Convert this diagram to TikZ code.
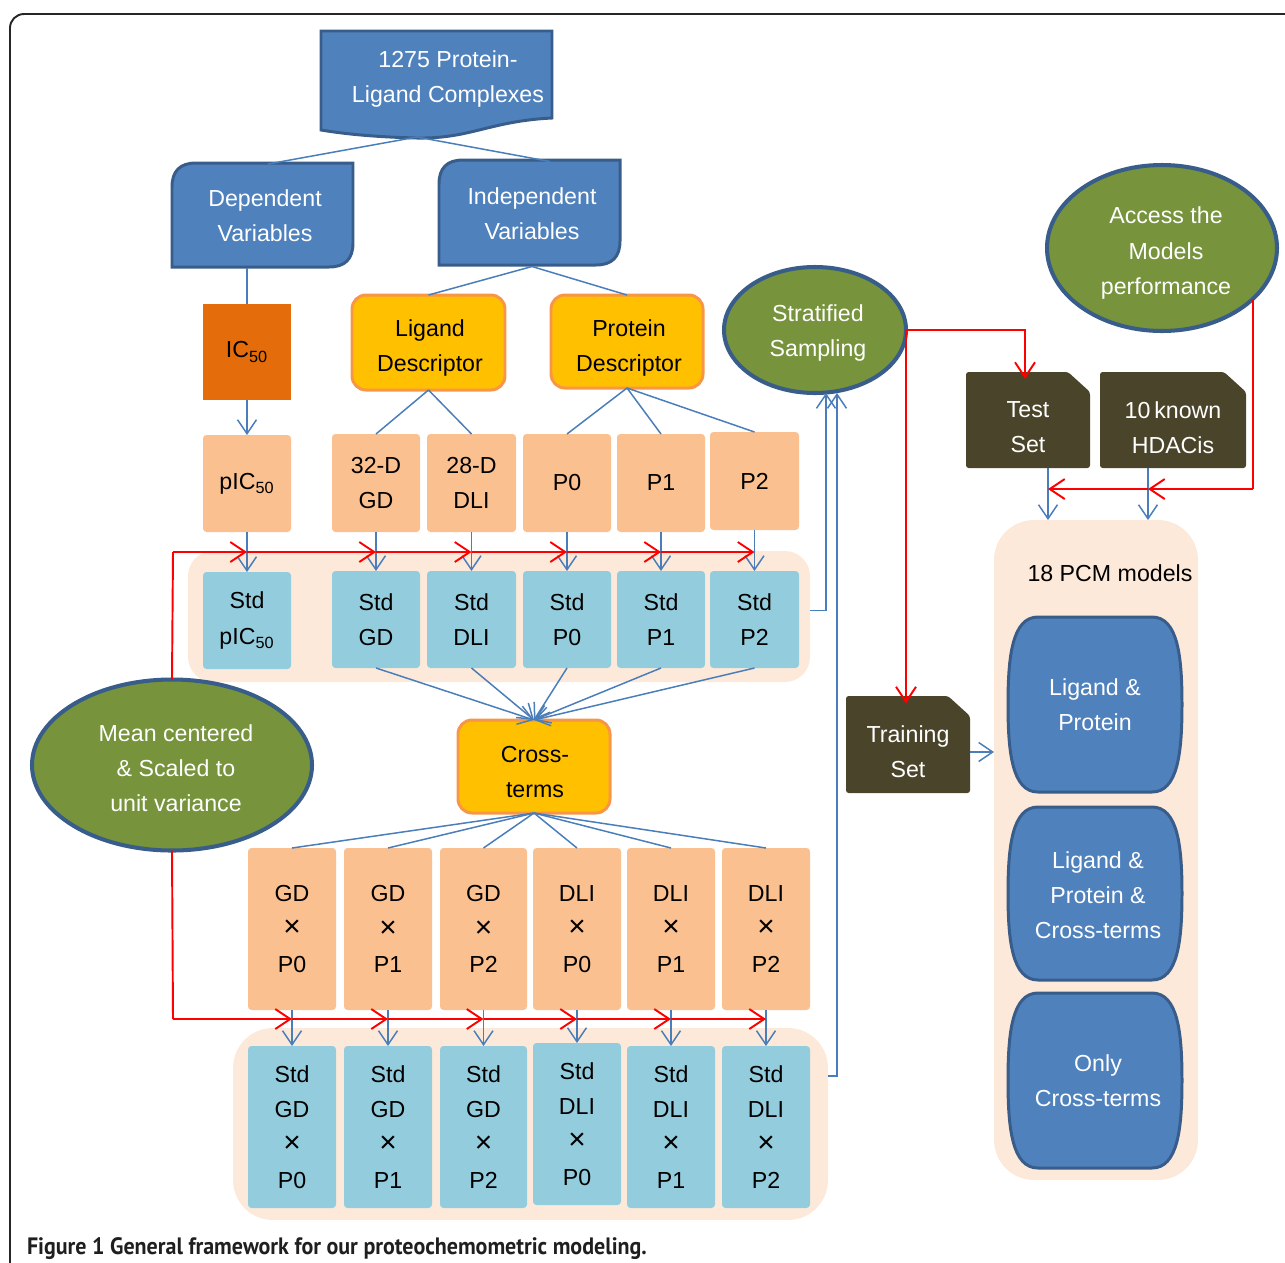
\documentclass[tikz,border=0pt]{standalone}
\usepackage{fontspec}
\usepackage{graphicx}
\setmainfont{Liberation Sans}
\newfontfamily\capfont{PT Sans}
\usetikzlibrary{arrows.meta,shapes.geometric,calc}
\definecolor{dblue}{HTML}{4F81BD}
\definecolor{dbord}{HTML}{385D8A}
\definecolor{lorange}{HTML}{FAC090}
\definecolor{lblue}{HTML}{93CDDD}
\definecolor{peach}{HTML}{FDE9D9}
\definecolor{gold}{HTML}{FFC000}
\definecolor{goldb}{HTML}{F79646}
\definecolor{icorange}{HTML}{E46C0A}
\definecolor{olive}{HTML}{77933C}
\definecolor{darkbox}{HTML}{4A452A}
\definecolor{lineblue}{HTML}{4A7EBB}
\pgfdeclarelayer{bands}
\pgfdeclarelayer{shapes}
\pgfsetlayers{bands,shapes,main}
\newcommand\tms{{\fontsize{17}{20}\selectfont ×}}
% x1 y1 x2 y2
\newcommand\mydiagbox[4]{\filldraw[fill=dblue,draw=dbord,line width=1.7pt] (#1,#4) -- (#1,#2+24) .. controls (#1,#2+8) and (#1+8,#2) .. (#1+24,#2) -- (#3,#2) -- (#3,#4-24) .. controls (#3,#4-8) and (#3-8,#4) .. (#3-24,#4) -- cycle;}
\newcommand\mybarrel[4]{\filldraw[fill=dblue,draw=dbord,line width=1.7pt] (#1+30,#2) -- (#3-30,#2) .. controls (#3-4,#2) and (#3,#2+40) .. (#3,{(#2+#4)/2}) .. controls (#3,#4-40) and (#3-4,#4) .. (#3-30,#4) -- (#1+30,#4) .. controls (#1+4,#4) and (#1,#4-40) .. (#1,{(#2+#4)/2}) .. controls (#1,#2+40) and (#1+4,#2) .. (#1+30,#2) -- cycle;}
\newcommand\mysnip[4]{\fill[darkbox,rounded corners=1.5pt] (#1,#2) -- (#3-22,#2) -- (#3,#2+20) -- (#3,#4) -- (#1,#4) -- cycle;}
\begin{document}
\begin{tikzpicture}[x=0.02cm,y=-0.02cm,
 every node/.style={font=\fontsize{13.2}{20}\selectfont, align=center, inner sep=0pt, outer sep=0pt},
 sz/.style 2 args={minimum width=#1*0.02cm, minimum height=#2*0.02cm},
 obox/.style={fill=lorange, rounded corners=2pt},
 sbox/.style={fill=lblue, rounded corners=2pt},
 ylw/.style={fill=gold, draw=goldb, line width=1.7pt, rounded corners=8pt},
 ell/.style={ellipse, fill=olive, draw=dbord, line width=2.3pt, text=white},
 link/.style={draw=lineblue, line width=0.85pt},
 barr/.style={link, -{Straight Barb[length=0.28cm,width=0.38cm]}},
 rline/.style={draw=red, line width=1.1pt},
 rarr/.style={rline, -{Straight Barb[length=0.3cm,width=0.4cm]}},
]
\useasboundingbox (0,0) rectangle (1285,1262);
\clip (0,0) rectangle (1285,1262);
\draw[line width=1.1pt, draw=black!85, rounded corners=0.28cm] (10,1300) -- (10,14) -- (1300,14);

% ---------- bands ----------
\begin{pgfonlayer}{bands}
\node[fill=peach, rounded corners=0.5cm, sz={622}{131}] (band1) at (499,616.5) {};
\node[fill=peach, rounded corners=0.8cm, sz={595}{192}] (band2) at (530.5,1124) {};
\node[fill=peach, rounded corners=0.8cm, sz={204}{660}] (pcm) at (1096,850) {};
\end{pgfonlayer}

% ---------- special shapes ----------
\begin{pgfonlayer}{shapes}
\filldraw[fill=dblue, draw=dbord, line width=1.7pt] (321,31) -- (552,31) -- (552,118) .. controls (490,121) and (470,139) .. (417,138) .. controls (375,137) and (345,134) .. (321,130) -- cycle;
\mydiagbox{172}{163}{353}{267}
\mydiagbox{439}{160}{620}{265}
\mybarrel{1008}{617}{1182}{792}
\mybarrel{1008}{807}{1182}{980}
\mybarrel{1008}{993}{1182}{1168}
\mysnip{966}{372}{1090}{468}
\mysnip{1100}{372}{1246}{468}
\mysnip{846}{696}{970}{793}
\end{pgfonlayer}

% ---------- top ----------
\node[text=white] (cplx) at (448,79) {1275 Protein-\\Ligand Complexes};
\coordinate (cplxb) at (417,137);
\node[text=white, sz={181}{104}] (dep) at (265,216) {Dependent\\Variables};
\node[text=white, sz={181}{105}] (ind) at (532,214) {Independent\\Variables};
\node[fill=icorange, sz={88}{96}] (ic) at (247,352) {IC\textsubscript{50}};
\node[ylw, sz={153}{95}] (lig) at (428.5,342.5) {};
\node (ligt) at (430,348) {Ligand\\Descriptor};
\node[ylw, sz={152}{93}] (prot) at (627,341.5) {};
\node (prott) at (629,348) {Protein\\Descriptor};

% ---------- orange row ----------
\node[obox, sz={88}{97}] (pic) at (247,483.5) {pIC\textsubscript{50}};
\node[obox, sz={88}{98}] (gd) at (376,483) {32-D\\GD};
\node[obox, sz={89}{98}] (dli) at (471.5,483) {28-D\\DLI};
\node[obox, sz={88}{98}] (p0) at (567,483) {P0};
\node[obox, sz={88}{98}] (p1) at (661,483) {P1};
\node[obox, sz={89}{98}] (p2) at (754.5,481) {P2};

% ---------- std row ----------
\node[sbox, sz={88}{97}] (spic) at (247,620.5) {Std\\pIC\textsubscript{50}};
\node[sbox, sz={88}{97}] (sgd) at (376,619.5) {Std\\GD};
\node[sbox, sz={89}{97}] (sdli) at (471.5,619.5) {Std\\DLI};
\node[sbox, sz={88}{97}] (sp0) at (567,619.5) {Std\\P0};
\node[sbox, sz={88}{97}] (sp1) at (661,619.5) {Std\\P1};
\node[sbox, sz={89}{97}] (sp2) at (754.5,619.5) {Std\\P2};

% ---------- cross ----------
\node[ylw, sz={152}{93}] (cross) at (534,766.5) {};
\node (crosst) at (535,772) {Cross-\\terms};
\node[ell, sz={280}{171}] (mean) at (172,765) {};
\node[text=white] (meant) at (176,768) {Mean centered\\\& Scaled to\\unit variance};
\node[ell, sz={182}{126}] (strat) at (815,330) {};
\node[text=white] (stratt) at (818,333) {Stratified\\Sampling};
\node[ell, sz={230}{166}] (access) at (1162,248) {};
\node[text=white] (accesst) at (1166,253) {Access the\\Models\\performance};

\node[obox, sz={88}{162}] (c1) at (292,929) {GD\\\tms\\P0};
\node[obox, sz={88}{162}] (c2) at (388,929) {GD\\\tms\\P1};
\node[obox, sz={87}{162}] (c3) at (483.5,929) {GD\\\tms\\P2};
\node[obox, sz={88}{162}] (c4) at (577,929) {DLI\\\tms\\P0};
\node[obox, sz={88}{162}] (c5) at (671,929) {DLI\\\tms\\P1};
\node[obox, sz={88}{162}] (c6) at (766,929) {DLI\\\tms\\P2};

\node[sbox, sz={88}{162}] (s1) at (292,1127) {Std\\GD\\\tms\\P0};
\node[sbox, sz={88}{162}] (s2) at (388,1127) {Std\\GD\\\tms\\P1};
\node[sbox, sz={87}{162}] (s3) at (483.5,1127) {Std\\GD\\\tms\\P2};
\node[sbox, sz={88}{162}] (s4) at (577,1124) {Std\\DLI\\\tms\\P0};
\node[sbox, sz={88}{162}] (s5) at (671,1127) {Std\\DLI\\\tms\\P1};
\node[sbox, sz={88}{162}] (s6) at (766,1127) {Std\\DLI\\\tms\\P2};

% ---------- right side ----------
\node[text=white, sz={124}{96}] (test) at (1028,427) {Test\\Set};
\node[text=white, sz={146}{96}] (hd) at (1173,428) {10\,known\\HDACis};
\node[text=white, sz={124}{97}] (train) at (908,752) {Training\\Set};
\node (pcmlbl) at (1110,573) {18 PCM models};
\node[text=white, sz={174}{175}] (m1) at (1095,704.5) {Ligand \&\\Protein};
\node[text=white, sz={174}{173}] (m2) at (1098,895) {Ligand \&\\Protein \&\\Cross-terms};
\node[text=white, sz={174}{175}] (m3) at (1098,1080.5) {Only\\Cross-terms};

% ---------- caption ----------
\node[anchor=base west, text=black!88] (cap) at (27,1254) {\resizebox{12.4cm}{\height}{\capfont\fontsize{13.5}{16}\selectfont\bfseries Figure 1 General framework for our proteochemometric modeling.}};

% ---------- connectors ----------
\draw[link] (cplxb) -- ([xshift=0.06cm]dep.north);
\draw[link] (cplxb) -- ([xshift=0.36cm]ind.north);
\draw[link] (ic.north |- dep.south) -- (ic.north);
\draw[link] (ind.south) -- (lig.north);
\draw[link] (ind.south) -- (prot.north);
\draw[link] (lig.south) -- (gd.north);
\draw[link] (lig.south) -- (dli.north);
\draw[link] (prot.south) -- (p0.north);
\draw[link] (prot.south) -- (p1.north);
\draw[link] (prot.south) -- (p2.north);
\draw[barr] (ic.south) -- (pic.north);

\foreach \a/\b in {pic/spic,gd/sgd,dli/sdli,p0/sp0,p1/sp1,p2/sp2}
  \draw[barr] (\a.south) -- (\b.north);
\foreach \a/\b in {c1/s1,c2/s2,c3/s3,c4/s4,c5/s5,c6/s6}
  \draw[barr] (\a.south) -- (\b.north);

\foreach \n in {sgd,sdli,sp0,sp1,sp2}
  \draw[barr] (\n.south) -- (cross.north);
\foreach \n in {c1,c2,c3,c4,c5,c6}
  \draw[link] (cross.south) -- (\n.north);

% red rows
\coordinate (r1) at (173,552);
\draw[rline] (mean.north) -- (r1);
\draw[rarr] (r1) -- (pic.north |- r1);
\draw[rarr] (pic.north |- r1) -- (gd.north |- r1);
\draw[rarr] (gd.north |- r1) -- (dli.north |- r1);
\draw[rarr] (dli.north |- r1) -- (p0.north |- r1);
\draw[rarr] (p0.north |- r1) -- (p1.north |- r1);
\draw[rarr] (p1.north |- r1) -- (p2.north |- r1);

\coordinate (r2) at (173,1019);
\draw[rline] (mean.south) -- (r2);
\draw[rarr] (r2) -- (c1.south |- r2);
\draw[rarr] (c1.south |- r2) -- (c2.south |- r2);
\draw[rarr] (c2.south |- r2) -- (c3.south |- r2);
\draw[rarr] (c3.south |- r2) -- (c4.south |- r2);
\draw[rarr] (c4.south |- r2) -- (c5.south |- r2);
\draw[rarr] (c5.south |- r2) -- (c6.south |- r2);

% to stratified sampling
\draw[barr] ([yshift=0.12cm]band1.east) -| ([xshift=0.22cm]strat.south);
\draw[barr] ([yshift=0.96cm]band2.east) -| ([xshift=0.44cm]strat.south);

% stratified -> test / training
\draw[rarr] (strat.east) -| ([xshift=-0.06cm]test.north);
\draw[rarr] (strat.east) -- (strat.east |- train.north);

% test / hdac -> pcm
\coordinate (tb) at (1048,468);
\coordinate (hb) at (1148,468);
\draw[barr] (tb) -- (tb |- pcm.north);
\draw[barr] (hb) -- (hb |- pcm.north);

% access -> red
\coordinate (redy) at (0,489);
\draw[rline] (access.-29) -- (access.-29 |- redy);
\draw[rarr] (access.-29 |- redy) -- (hb |- redy);
\draw[rarr] (hb |- redy) -- (tb |- redy);

% training -> models
\draw[barr] (train.east) -- (train.east -| pcm.west);
\end{tikzpicture}
\end{document}
